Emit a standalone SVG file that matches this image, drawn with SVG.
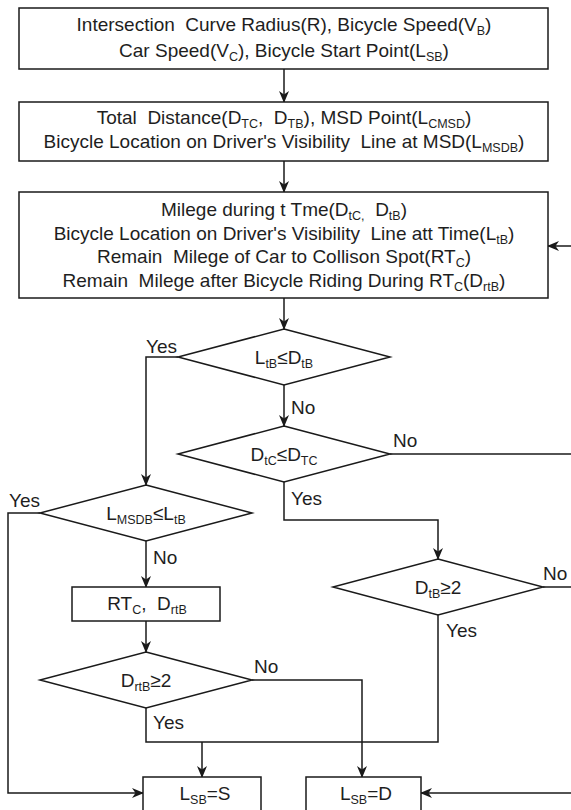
<svg xmlns="http://www.w3.org/2000/svg" width="571" height="810" viewBox="0 0 571 810" xml:space="preserve">
<defs>
<marker id="ah" viewBox="0 0 12 10" refX="11" refY="5" markerWidth="12" markerHeight="10" markerUnits="userSpaceOnUse" orient="auto">
<path d="M0,0 L12,5 L0,10 L3.5,5 z" fill="#1a1a1a"/>
</marker>
<style>
.b{fill:#fff;stroke:#1a1a1a;stroke-width:1.5}
.c{fill:none;stroke:#1a1a1a;stroke-width:1.5}
.a{marker-end:url(#ah)}
text{font-family:"Liberation Sans",Arial,sans-serif;font-size:19px;fill:#1e1e1e;white-space:pre}
.m{text-anchor:middle}
.s{font-size:12.5px}
</style>
</defs>
<rect width="571" height="810" fill="#fff"/>
<g id="connectors">
<path class="c a" d="M284,69 V102"/>
<path class="c a" d="M284,161 V192"/>
<path class="c a" d="M284,298 V329"/>
<path class="c a" d="M571,246 H548"/>
<path class="c a" d="M178,357 H146 V485"/>
<path class="c a" d="M284,385 V426"/>
<path class="c" d="M390,454 H571"/>
<path class="c a" d="M284,482 V520 H438 V559"/>
<path class="c" d="M543,587 H571"/>
<path class="c a" d="M40,513 H8 V793 H143"/>
<path class="c a" d="M146,541 V587"/>
<path class="c a" d="M146,621 V652"/>
<path class="c" d="M146,708 V742 H438 V615"/>
<path class="c a" d="M202,742 V777"/>
<path class="c a" d="M252,680 H362 V777"/>
<path class="c a" d="M571,793 H421"/>
</g>
<g id="box1">
<rect class="b" x="19" y="8" width="529" height="61"/>
<text class="m" x="284" y="31">Intersection  Curve Radius(R), Bicycle Speed(V<tspan class="s" dy="4">B</tspan><tspan dy="-4">)</tspan></text>
<text class="m" x="284" y="57">Car Speed(V<tspan class="s" dy="4">C</tspan><tspan dy="-4">), Bicycle Start Point(L</tspan><tspan class="s" dy="4">SB</tspan><tspan dy="-4">)</tspan></text>
</g>
<g id="box2">
<rect class="b" x="19" y="102" width="529" height="59"/>
<text class="m" x="284" y="124">Total  Distance(D<tspan class="s" dy="4">TC</tspan><tspan dy="-4">,  D</tspan><tspan class="s" dy="4">TB</tspan><tspan dy="-4">), MSD Point(L</tspan><tspan class="s" dy="4">CMSD</tspan><tspan dy="-4">)</tspan></text>
<text class="m" x="284" y="148">Bicycle Location on Driver's Visibility  Line at MSD(L<tspan class="s" dy="4">MSDB</tspan><tspan dy="-4">)</tspan></text>
</g>
<g id="box3">
<rect class="b" x="19" y="192" width="529" height="106"/>
<text class="m" x="284" y="216">Milege during t Tme(D<tspan class="s" dy="4">tC,</tspan><tspan dy="-4">  D</tspan><tspan class="s" dy="4">tB</tspan><tspan dy="-4">)</tspan></text>
<text class="m" x="284" y="240">Bicycle Location on Driver's Visibility  Line att Time(L<tspan class="s" dy="4">tB</tspan><tspan dy="-4">)</tspan></text>
<text class="m" x="284" y="263">Remain  Milege of Car to Collison Spot(RT<tspan class="s" dy="4">C</tspan><tspan dy="-4">)</tspan></text>
<text class="m" x="284" y="287">Remain  Milege after Bicycle Riding During RT<tspan class="s" dy="4">C</tspan><tspan dy="-4">(D</tspan><tspan class="s" dy="4">rtB</tspan><tspan dy="-4">)</tspan></text>
</g>
<g id="d1">
<polygon class="b" points="284,329 390,357 284,385 178,357"/>
<text class="m" x="284" y="364">L<tspan class="s" dy="4">tB</tspan><tspan dy="-4">≤D</tspan><tspan class="s" dy="4">tB</tspan></text>
<text x="146" y="353">Yes</text>
<text x="291" y="414">No</text>
</g>
<g id="d2">
<polygon class="b" points="284,426 390,454 284,482 178,454"/>
<text class="m" x="284" y="461">D<tspan class="s" dy="4">tC</tspan><tspan dy="-4">≤D</tspan><tspan class="s" dy="4">TC</tspan></text>
<text x="393" y="447">No</text>
<text x="291" y="505">Yes</text>
</g>
<g id="d3">
<polygon class="b" points="146,485 252,513 146,541 40,513"/>
<text class="m" x="146" y="520">L<tspan class="s" dy="4">MSDB</tspan><tspan dy="-4">≤L</tspan><tspan class="s" dy="4">tB</tspan></text>
<text x="9" y="507">Yes</text>
<text x="153" y="564">No</text>
</g>
<g id="box4">
<rect class="b" x="72" y="587" width="148" height="34"/>
<text class="m" x="147" y="610">RT<tspan class="s" dy="4">C</tspan><tspan dy="-4">,  D</tspan><tspan class="s" dy="4">rtB</tspan></text>
</g>
<g id="d4">
<polygon class="b" points="146,652 252,680 146,708 40,680"/>
<text class="m" x="146" y="687">D<tspan class="s" dy="4">rtB</tspan><tspan dy="-4">≥2</tspan></text>
<text x="254" y="673">No</text>
<text x="153" y="729">Yes</text>
</g>
<g id="d5">
<polygon class="b" points="438,559 543,587 438,615 333,587"/>
<text class="m" x="438" y="594">D<tspan class="s" dy="4">tB</tspan><tspan dy="-4">≥2</tspan></text>
<text x="543" y="580">No</text>
<text x="446" y="637">Yes</text>
</g>
<g id="boxS">
<rect class="b" x="143" y="777" width="118" height="50"/>
<text class="m" x="205" y="800">L<tspan class="s" dy="4">SB</tspan><tspan dy="-4">=S</tspan></text>
</g>
<g id="boxD">
<rect class="b" x="306" y="777" width="115" height="50"/>
<text class="m" x="366" y="800">L<tspan class="s" dy="4">SB</tspan><tspan dy="-4">=D</tspan></text>
</g>
</svg>
